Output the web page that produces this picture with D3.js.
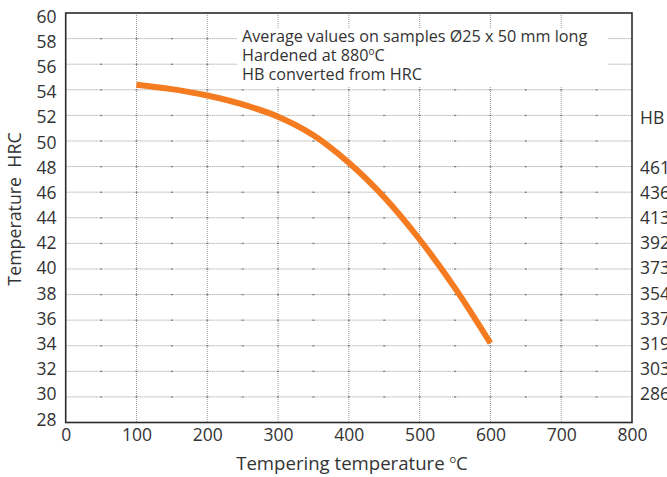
<!DOCTYPE html>
<html><head><meta charset="utf-8">
<script src="https://cdn.jsdelivr.net/npm/d3@7"></script>
<style>
html,body{margin:0;padding:0;background:#fff;}
svg{display:block;font-family:"Open Sans",sans-serif;}
</style></head>
<body>
<svg id="chart" width="667" height="477"></svg>
<script>
// ---- data ----
const temps = [100, 150, 200, 250, 300, 350, 400, 450, 500, 550, 600];
const hrc   = [54.4, 54.05, 53.55, 52.85, 51.9, 50.45, 48.3, 45.6, 42.3, 38.5, 34.2];
const xTicks = [0, 100, 200, 300, 400, 500, 600, 700, 800];
const yTicks = [28, 30, 32, 34, 36, 38, 40, 42, 44, 46, 48, 50, 52, 54, 56, 58, 60];
const hbRows = [48, 46, 44, 42, 40, 38, 36, 34, 32, 30];
const hbLabels = ["461", "436", "413", "392", "373", "354", "337", "319", "303", "286"];
const noteLines = ["Average values on samples \u00D825 x 50 mm long", "Hardened at 880", "HB converted from HRC"];
const xTitle = "Tempering temperature ";
const yTitle = "Temperature\u00A0\u00A0HRC";

// ---- layout ----
const svg = d3.select("#chart");
const L = 65.7, R = 632, T = 13, B = 422.5;
const x = d3.scaleLinear().domain([0, 800]).range([L, R]);
const y = d3.scaleLinear().domain([28, 60]).range([B, T]);
const yLab = d3.scaleLinear().domain([28, 60]).range([419.5, 16.5]);
const textColor = "#333";
const tickFont = 17.5;

// grid
const grid = svg.append("g");
const hLines = yTicks.filter(d => d > 28 && d < 60);
grid.selectAll("line.h").data(hLines).join("line")
  .attr("x1", L).attr("x2", R).attr("y1", d => y(d)).attr("y2", d => y(d))
  .attr("stroke", "#9a9a9a").attr("stroke-width", 1).attr("stroke-dasharray", "1,1");
grid.selectAll("line.v").data(xTicks.filter(d => d > 0 && d < 800)).join("line")
  .attr("x1", d => x(d)).attr("x2", d => x(d)).attr("y1", T).attr("y2", B)
  .attr("stroke", "#9a9a9a").attr("stroke-width", 1).attr("stroke-dasharray", "1,1");
// darker minor marks on grid lines
const minorX = d3.range(50, 800, 50);
const marks = [];
hLines.forEach(h => minorX.forEach(m => marks.push([m, h])));
grid.selectAll("rect.m").data(marks).join("rect")
  .attr("x", d => x(d[0]) - 1).attr("y", d => y(d[1]) - 0.5)
  .attr("width", 2).attr("height", 1.2).attr("fill", "#777");

// white box behind note
svg.append("rect").attr("x", 237).attr("y", 29).attr("width", 371).attr("height", 58).attr("fill", "#fff");

// frame
svg.append("rect").attr("x", L).attr("y", T).attr("width", R - L).attr("height", B - T)
  .attr("fill", "none").attr("stroke", "#2b2b2b").attr("stroke-width", 1.6);

// curve
const line = d3.line().x(d => x(d[0])).y(d => y(d[1])).curve(d3.curveCatmullRom);
svg.append("path").datum(temps.map((t, i) => [t, hrc[i]]))
  .attr("d", line).attr("fill", "none").attr("stroke", "#F47B20").attr("stroke-width", 6);

// y tick labels
const yAxis = d3.axisLeft(yLab).tickValues(yTicks).tickSize(0).tickPadding(0).tickFormat(d3.format("d"));
const ya = svg.append("g").attr("transform", "translate(56.5,0)").call(yAxis);
ya.select(".domain").remove();
ya.selectAll("text").attr("font-size", tickFont).attr("fill", textColor).attr("font-family", "Open Sans");

// x tick labels
const xAxis = d3.axisBottom(x).tickValues(xTicks).tickSize(0).tickPadding(0);
const xa = svg.append("g").attr("transform", "translate(0,429)").call(xAxis);
xa.select(".domain").remove();
xa.selectAll("text").attr("font-size", tickFont).attr("fill", textColor).attr("font-family", "Open Sans");

// HB labels on right
svg.append("text").attr("x", 640).attr("y", yLab(52) + 7).attr("font-size", tickFont).attr("fill", textColor).text("HB");
svg.selectAll("text.hb").data(hbRows).join("text")
  .attr("x", 640).attr("y", d => yLab(d) + 6).attr("font-size", tickFont).attr("fill", textColor)
  .text((d, i) => hbLabels[i]);

// note text
const note = svg.append("g").attr("font-size", 16.2).attr("fill", textColor);
noteLines.forEach((s, i) => {
  const t = note.append("text").attr("x", 242).attr("y", 42 + i * 19).text(s);
  if (i === 1) {
    t.append("tspan").attr("font-size", 10).attr("dy", -6).text("o");
    t.append("tspan").attr("dy", 6).text("C");
  }
});

// axis titles
const xt = svg.append("text").attr("x", 352).attr("y", 470).attr("text-anchor", "middle")
  .attr("font-size", 18.6).attr("fill", textColor).text(xTitle);
xt.append("tspan").attr("font-size", 11).attr("dy", -7).text("o");
xt.append("tspan").attr("dy", 7).text("C");

svg.append("text").attr("transform", "translate(21,209) rotate(-90)").attr("text-anchor", "middle")
  .attr("font-size", 17.8).attr("fill", textColor).text(yTitle);
</script>
</body></html>
